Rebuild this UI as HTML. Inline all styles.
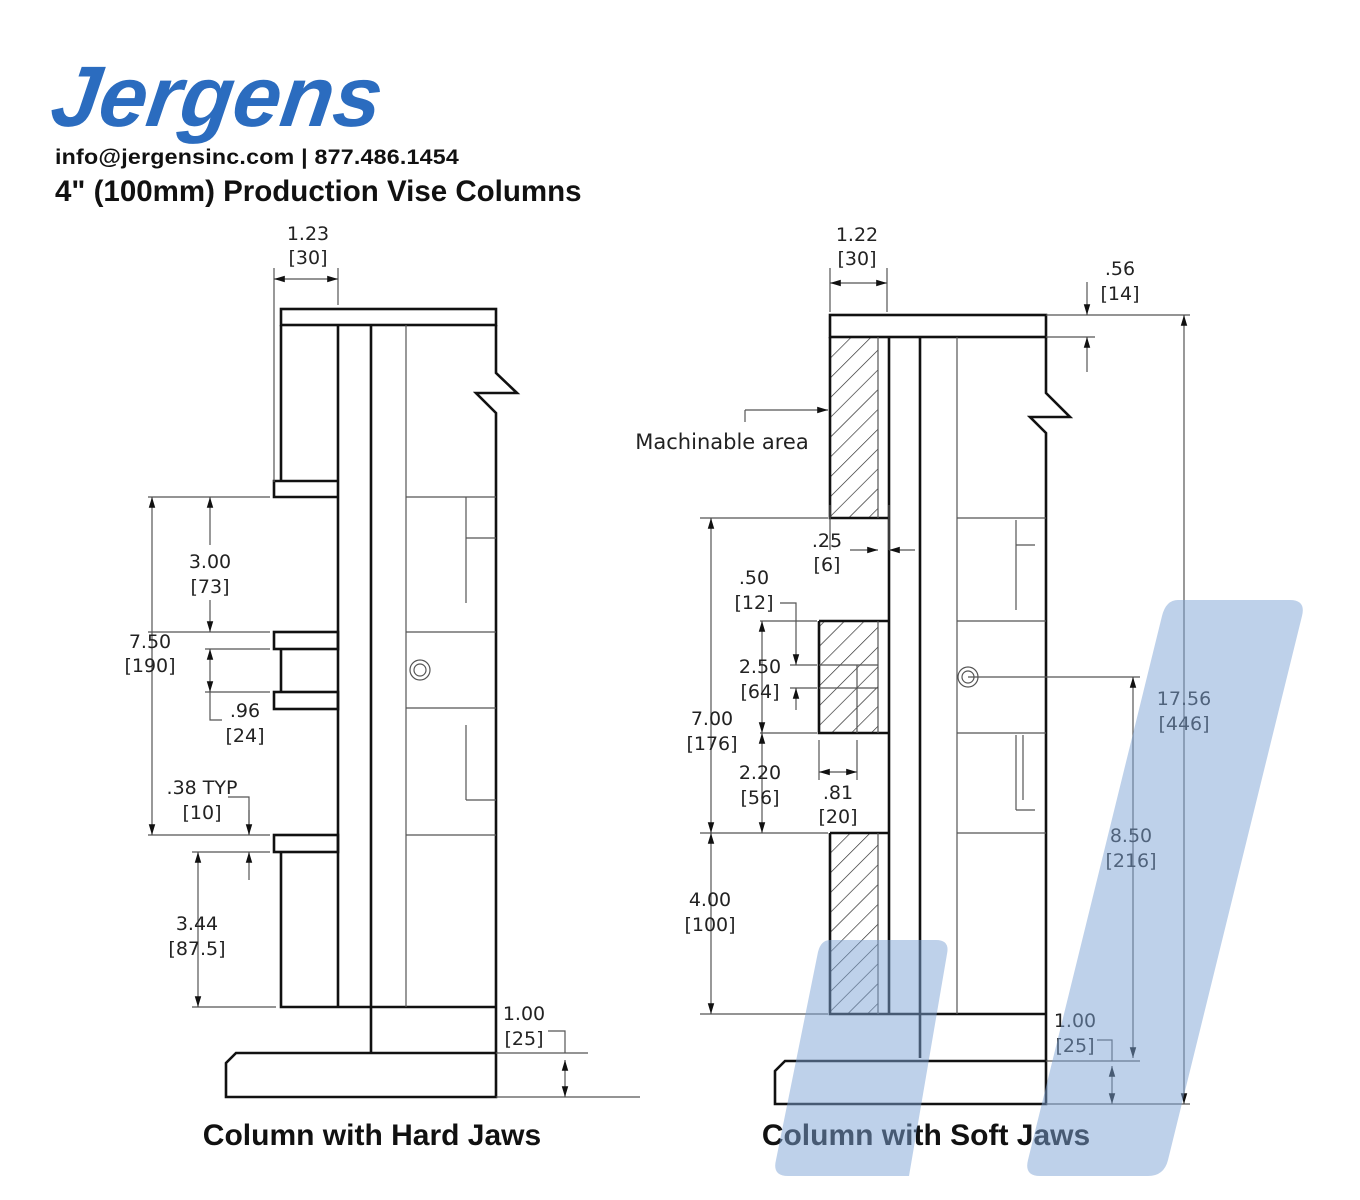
<!DOCTYPE html>
<html><head><meta charset="utf-8"><style>
html,body{margin:0;padding:0;background:#fff;}
svg{display:block}
.t{font-family:"DejaVu Sans","Liberation Sans",sans-serif;font-size:19px;fill:#222;text-anchor:middle}
.k{stroke:#111;stroke-width:2.6;fill:none}
.n{stroke:#555;stroke-width:1.2;fill:none}
.h{font-family:"Liberation Sans",sans-serif;font-weight:bold;fill:#111}
</style></head><body>
<svg width="1360" height="1200" viewBox="0 0 1360 1200" xmlns="http://www.w3.org/2000/svg">
<defs>
<pattern id="hat" patternUnits="userSpaceOnUse" width="14" height="14" patternTransform="rotate(45)">
<line x1="0" y1="0" x2="0" y2="14" stroke="#222" stroke-width="1.3"/>
</pattern>
<marker id="a" viewBox="0 0 10 10" refX="10" refY="5" markerWidth="9" markerHeight="9" orient="auto-start-reverse"><path d="M0,2 L10,5 L0,8z" fill="#111"/></marker>
</defs>
<text x="50" y="126" class="h" style="font-size:86px;font-style:italic;fill:#2b6cbf;letter-spacing:0px" transform="skewX(-8) translate(16,0)">Jergens</text>
<text x="55" y="164" class="h" style="font-size:21px;letter-spacing:0.2px" textLength="404" lengthAdjust="spacingAndGlyphs">info@jergensinc.com | 877.486.1454</text>
<text x="55" y="201" class="h" style="font-size:29.5px">4" (100mm) Production Vise Columns</text>

<!-- LEFT -->
<g>
<rect x="281" y="309" width="215" height="16" class="k"/>
<path class="k" d="M281,325 V481 M274,481 H338 V497 H274 Z M338,325 V1007 M371,325 V1053 M496,325 V373 L517,393 H476 L496,413 V1053 M281,852 V1007 H496 M281,649 V692"/>
<rect x="274" y="632" width="64" height="17" class="k"/>
<rect x="274" y="692" width="64" height="17" class="k"/>
<rect x="274" y="835" width="64" height="17" class="k"/>
<path class="n" d="M406,325 V1007 M406,497 H496 M406,632 H496 M406,708 H496 M406,835 H496 M466,497 V603 M466,538 H496 M466,725 V800 M466,800 H496"/>
<circle cx="420" cy="670" r="10" class="n"/><circle cx="420" cy="670" r="6" class="n"/>
<path class="k" d="M236,1053 H496 V1097 H226 V1063 Z"/>
<path class="n" d="M496,1053 H588 M496,1097 H640 M274,268 V482 M338,268 V305 M148,497 H270 M148,835 H270 M148,632 H270 M205,649 H270 M205,692 H270 M192,852 H270 M192,1007 H276"/>
<line x1="274" y1="279" x2="338" y2="279" class="n" marker-start="url(#a)" marker-end="url(#a)"/>
<line x1="152" y1="497" x2="152" y2="835" class="n" marker-start="url(#a)" marker-end="url(#a)"/>
<line x1="210" y1="497" x2="210" y2="545" class="n" marker-start="url(#a)"/>
<line x1="210" y1="600" x2="210" y2="632" class="n" marker-end="url(#a)"/>
<line x1="210" y1="649" x2="210" y2="692" class="n" marker-start="url(#a)" marker-end="url(#a)"/>
<path class="n" d="M210,692 V720 H222"/>
<path class="n" d="M228,797 H249 V835"/><line x1="249" y1="810" x2="249" y2="835" class="n" marker-end="url(#a)"/>
<line x1="249" y1="880" x2="249" y2="852" class="n" marker-end="url(#a)"/>
<line x1="198" y1="852" x2="198" y2="1007" class="n" marker-start="url(#a)" marker-end="url(#a)"/>
<path class="n" d="M548,1031 H565 V1053"/>
<line x1="565" y1="1060" x2="565" y2="1097" class="n" marker-start="url(#a)" marker-end="url(#a)"/>
<text class="t" x="308" y="240">1.23</text><text class="t" x="308" y="264">[30]</text>
<text class="t" x="150" y="648">7.50</text><text class="t" x="150" y="672">[190]</text>
<text class="t" x="210" y="568">3.00</text><text class="t" x="210" y="593">[73]</text>
<text class="t" x="245" y="717">.96</text><text class="t" x="245" y="742">[24]</text>
<text class="t" x="202" y="794">.38 TYP</text><text class="t" x="202" y="819">[10]</text>
<text class="t" x="197" y="930">3.44</text><text class="t" x="197" y="955">[87.5]</text>
<text class="t" x="524" y="1020">1.00</text><text class="t" x="524" y="1045">[25]</text>
</g>

<!-- RIGHT -->
<g>
<rect x="830" y="337" width="48" height="181" fill="url(#hat)"/>
<rect x="819" y="621" width="59" height="112" fill="url(#hat)"/>
<rect x="830" y="833" width="48" height="181" fill="url(#hat)"/>
<rect x="830" y="315" width="216" height="22" class="k"/>
<path class="k" d="M830,337 V518 H889 M889,337 V1014 M920,337 V1058 M1046,337 V393 L1070,417 H1030 L1046,433 V1061 M819,621 H889 M819,621 V733 H889 M830,833 H889 M830,833 V1014 H1046"/>
<path class="n" d="M878,337 V518 M878,621 V733 M878,833 V1014 M857,665 V733 M819,665 H878 M819,688 H878 M957,337 V1014 M957,518 H1046 M957,621 H1046 M957,733 H1046 M957,833 H1046 M1016,520 V610 M1016,545 H1035 M1016,735 V810 M1016,810 H1035 M1023,735 V800"/>
<circle cx="968" cy="677" r="10" class="n"/><circle cx="968" cy="677" r="6" class="n"/>
<path class="n" d="M968,677 H1140"/>
<path class="k" d="M785,1061 H1046 V1104 H775 V1071 Z"/>
<path class="n" d="M1046,1061 H1140 M1046,1104 H1190 M1046,315 H1190 M1046,337 H1095 M830,268 V312 M887,268 V312 M700,518 H828 M700,833 H828 M700,1014 H828 M760,621 H817 M790,665 H817 M790,688 H817 M760,733 H817 M819,740 V780 M857,740 V780"/>
<line x1="830" y1="283" x2="887" y2="283" class="n" marker-start="url(#a)" marker-end="url(#a)"/>
<line x1="1087" y1="282" x2="1087" y2="315" class="n" marker-end="url(#a)"/>
<line x1="1087" y1="372" x2="1087" y2="337" class="n" marker-end="url(#a)"/>
<line x1="1184" y1="315" x2="1184" y2="1104" class="n" marker-start="url(#a)" marker-end="url(#a)"/>
<line x1="1133" y1="677" x2="1133" y2="1058" class="n" marker-start="url(#a)" marker-end="url(#a)"/>
<path class="n" d="M1097,1040 H1112 V1061"/>
<line x1="1112" y1="1066" x2="1112" y2="1104" class="n" marker-start="url(#a)" marker-end="url(#a)"/>
<line x1="711" y1="518" x2="711" y2="833" class="n" marker-start="url(#a)" marker-end="url(#a)"/>
<line x1="711" y1="833" x2="711" y2="1014" class="n" marker-start="url(#a)" marker-end="url(#a)"/>
<path class="n" d="M745,410 V422"/>
<line x1="745" y1="410" x2="828" y2="410" class="n" marker-end="url(#a)"/>
<path class="n" d="M830,550 V505 M889,550 V505"/>
<line x1="850" y1="550" x2="878" y2="550" class="n" marker-end="url(#a)"/>
<line x1="915" y1="550" x2="889" y2="550" class="n" marker-end="url(#a)"/>
<path class="n" d="M780,603 H796 V640"/><line x1="796" y1="640" x2="796" y2="665" class="n" marker-end="url(#a)"/>
<line x1="796" y1="710" x2="796" y2="688" class="n" marker-end="url(#a)"/>
<line x1="762" y1="621" x2="762" y2="733" class="n" marker-start="url(#a)" marker-end="url(#a)"/>
<line x1="762" y1="733" x2="762" y2="833" class="n" marker-start="url(#a)" marker-end="url(#a)"/>
<line x1="819" y1="772" x2="857" y2="772" class="n" marker-start="url(#a)" marker-end="url(#a)"/>
<text class="t" x="857" y="241">1.22</text><text class="t" x="857" y="265">[30]</text>
<text class="t" x="1120" y="275">.56</text><text class="t" x="1120" y="300">[14]</text>
<text class="t" x="722" y="449" style="font-size:21px">Machinable area</text>
<text class="t" x="827" y="547">.25</text><text class="t" x="827" y="571">[6]</text>
<text class="t" x="754" y="584">.50</text><text class="t" x="754" y="609">[12]</text>
<text class="t" x="760" y="673">2.50</text><text class="t" x="760" y="698">[64]</text>
<text class="t" x="712" y="725">7.00</text><text class="t" x="712" y="750">[176]</text>
<text class="t" x="760" y="779">2.20</text><text class="t" x="760" y="804">[56]</text>
<text class="t" x="838" y="799">.81</text><text class="t" x="838" y="823">[20]</text>
<text class="t" x="710" y="906">4.00</text><text class="t" x="710" y="931">[100]</text>
<text class="t" x="1184" y="705">17.56</text><text class="t" x="1184" y="730">[446]</text>
<text class="t" x="1131" y="842">8.50</text><text class="t" x="1131" y="867">[216]</text>
<text class="t" x="1075" y="1027">1.00</text><text class="t" x="1075" y="1052">[25]</text>
</g>

<text x="372" y="1145" class="h" style="font-size:30px;text-anchor:middle">Column with Hard Jaws</text>
<text x="926" y="1145" class="h" style="font-size:30px;text-anchor:middle">Column with Soft Jaws</text>

<g fill="#7ea4d6" fill-opacity="0.5">
<path d="M1178,600 H1290 Q1306,600 1302,616 L1168,1160 Q1164,1176 1148,1176 H1040 Q1024,1176 1028,1160 L1162,616 Q1166,600 1178,600 Z"/>
<path d="M830,940 H936 Q950,940 947,954 L909,1176 H788 Q772,1176 776,1160 L818,952 Q821,940 830,940 Z"/>
</g>
</svg>
</body></html>
